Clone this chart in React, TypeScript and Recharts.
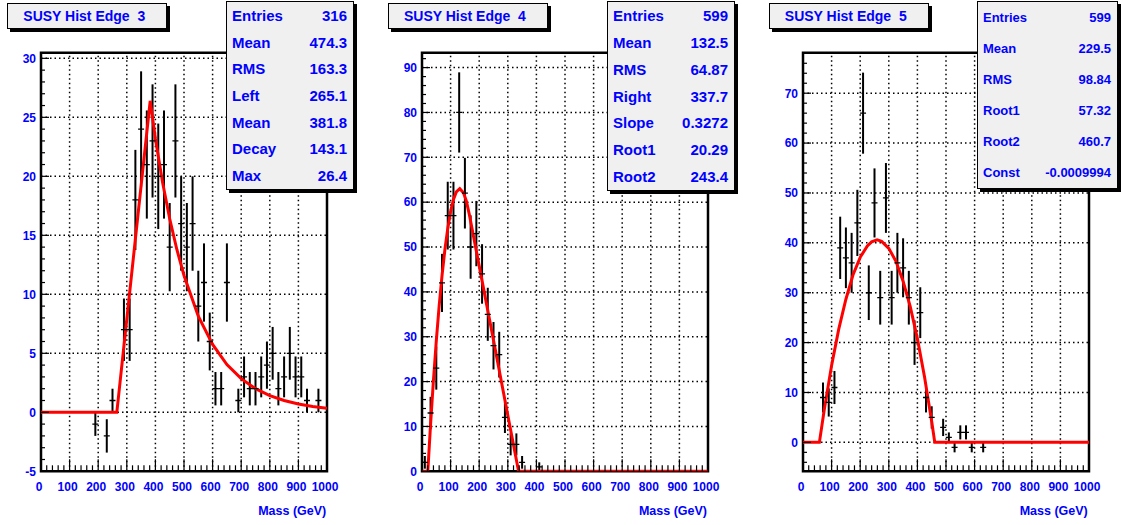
import React from 'react';
import { ComposedChart, XAxis, YAxis, Scatter, Line, ErrorBar, ReferenceLine, ReferenceArea } from 'recharts';

// ---------- Panel 1 : SUSY Hist Edge 3 ----------
const p1Mass = [190, 230, 250, 290, 310, 330, 350, 370, 390, 410, 430, 450, 470, 490, 510, 530, 550, 570, 590, 610, 630, 650, 690, 710, 730, 750, 770, 790, 810, 830, 850, 870, 890, 910, 930, 970];
const p1Counts = [-1, -2, 1, 7, 7, 18, 24, 21, 23, 20, 21, 14, 23, 16, 14, 16, 9, 11, 6, 2, 2, 11, 1, 3, 2, 2, 3, 4, 5, 2, 3, 5, 3, 3, 1, 1];
const p1FitMass = [0, 265.1, 381.8, 400, 425, 450, 475, 500, 550, 600, 650, 700, 750, 800, 850, 900, 950, 1000];
const p1FitValues = [0, 0, 26.4, 23.2, 19.5, 16.4, 13.8, 11.6, 8.15, 5.75, 4.05, 2.85, 2.0, 1.42, 1.0, 0.71, 0.5, 0.35];
const p1StatLabels = ['Entries', 'Mean', 'RMS', 'Left', 'Mean', 'Decay', 'Max'];
const p1StatValues = ['316', '474.3', '163.3', '265.1', '381.8', '143.1', '26.4'];
const p1YMajor = [-5, 0, 5, 10, 15, 20, 25, 30];

// ---------- Panel 2 : SUSY Hist Edge 4 ----------
const p2Mass = [10, 30, 50, 70, 90, 110, 130, 150, 170, 190, 210, 230, 250, 270, 290, 310, 330, 350, 410];
const p2Counts = [2, 13, 23, 42, 57, 57, 80, 62, 50, 53, 44, 35, 28, 26, 12, 6, 6, 2, 1];
const p2FitMass = [0, 20.3, 30, 40, 50, 60, 70, 80, 90, 100, 110, 120, 132, 145, 155, 165, 200, 250, 300, 337.7, 1000];
const p2FitValues = [0, 0, 10.5, 20.3, 29.1, 36.9, 43.6, 49.4, 54.1, 57.9, 60.6, 62.3, 63.0, 62.1, 60.3, 57.4, 45.8, 29.2, 12.5, 0, 0];
const p2StatLabels = ['Entries', 'Mean', 'RMS', 'Right', 'Slope', 'Root1', 'Root2'];
const p2StatValues = ['599', '132.5', '64.87', '337.7', '0.3272', '20.29', '243.4'];
const p2YMajor = [0, 10, 20, 30, 40, 50, 60, 70, 80, 90];

// ---------- Panel 3 : SUSY Hist Edge 5 ----------
const p3Mass = [70, 90, 110, 130, 150, 170, 190, 210, 230, 250, 270, 290, 310, 330, 350, 370, 390, 410, 430, 450, 490, 510, 530, 550, 570, 590, 630];
const p3Counts = [9, 8, 11, 39, 37, 36, 44, 66, 30, 48, 29, 49, 29, 36, 35, 29, 20, 26, 9, 5, 3, 1, -1, 2, 2, -1, -1];
const p3FitMass = [0, 57.3, 75, 100, 125, 150, 175, 200, 225, 240, 259, 275, 300, 325, 350, 375, 400, 425, 450, 460.7, 1000];
const p3FitValues = [0, 0, 6.8, 15.4, 22.7, 28.7, 33.6, 37.1, 39.4, 40.2, 40.6, 40.3, 38.9, 36.3, 32.3, 27.2, 20.8, 13.1, 4.2, 0, 0];
const p3StatLabels = ['Entries', 'Mean', 'RMS', 'Root1', 'Root2', 'Const'];
const p3StatValues = ['599', '229.5', '98.84', '57.32', '460.7', '-0.0009994'];
const p3YMajor = [0, 10, 20, 30, 40, 50, 60, 70];

// shared x axis
const xMajorTicks = [0, 100, 200, 300, 400, 500, 600, 700, 800, 900, 1000];
const xMinorStep = 20;

const FONT = '"Liberation Sans", Arial, Helvetica, sans-serif';
const BLUE = '#0000ff';
const FRAME_TOP = 52.8;
const FRAME_BOTTOM = 471.3;
const PLOT_W = 286;
const YAXIS_W = 41;
const H = 525;
const XAXIS_H = 40;

type PanelCfg = {
  title: string;
  frameLeft: number;
  mass: number[];
  counts: number[];
  fitMass: number[];
  fitValues: number[];
  statLabels: string[];
  statValues: string[];
  yMajor: number[];
  yDomain: [number, number];
  yMinorStep: number;
  statLeft: number;
  statWidth: number;
  statHeight: number;
  statFont: number;
};

const panels: PanelCfg[] = [
  {
    title: 'SUSY Hist Edge  3', frameLeft: 41.3, mass: p1Mass, counts: p1Counts,
    fitMass: p1FitMass, fitValues: p1FitValues, statLabels: p1StatLabels, statValues: p1StatValues,
    yMajor: p1YMajor, yDomain: [-5, 30.47], yMinorStep: 1,
    statLeft: 226, statWidth: 128, statHeight: 189, statFont: 15,
  },
  {
    title: 'SUSY Hist Edge  4', frameLeft: 422, mass: p2Mass, counts: p2Counts,
    fitMass: p2FitMass, fitValues: p2FitValues, statLabels: p2StatLabels, statValues: p2StatValues,
    yMajor: p2YMajor, yDomain: [0, 93.3], yMinorStep: 2,
    statLeft: 607, statWidth: 128, statHeight: 190, statFont: 15,
  },
  {
    title: 'SUSY Hist Edge  5', frameLeft: 802.8, mass: p3Mass, counts: p3Counts,
    fitMass: p3FitMass, fitValues: p3FitValues, statLabels: p3StatLabels, statValues: p3StatValues,
    yMajor: p3YMajor, yDomain: [-5.8, 78.1], yMinorStep: 2,
    statLeft: 977, statWidth: 141, statHeight: 188, statFont: 13,
  },
];

function range(a: number, b: number, step: number): number[] {
  const out: number[] = [];
  const start = Math.ceil(a / step) * step;
  for (let v = start; v <= b + 1e-9; v += step) out.push(Math.round(v * 1000) / 1000);
  return out;
}

const Marker = (p: any) => (
  <line x1={p.cx - 3} x2={p.cx + 3} y1={p.cy} y2={p.cy} stroke="#000" strokeWidth={1.3} />
);

function Panel({ cfg }: { cfg: PanelCfg }) {
  const pts = cfg.mass.map((m, i) => ({ x: m, y: cfg.counts[i], err: Math.sqrt(Math.abs(cfg.counts[i])) }));
  const fit = cfg.fitMass.map((m, i) => ({ x: m, y: cfg.fitValues[i] }));
  const xTicks = range(0, 1000, xMinorStep);
  const yTicks = range(cfg.yDomain[0], cfg.yDomain[1], cfg.yMinorStep);
  const gridX = xMajorTicks.filter((v) => v > 0 && v < 1000);
  const gridY = cfg.yMajor.filter((v) => v > cfg.yDomain[0] && v < cfg.yDomain[1]);

  const XTick = (p: any) => {
    const v = p.payload.value;
    const major = xMajorTicks.includes(v);
    return (
      <g>
        <line x1={p.x} x2={p.x} y1={p.y} y2={p.y - (major ? 12 : 6)} stroke="#000" strokeWidth={1.2} />
        {major && (
          <text x={p.x - 2} y={p.y + 20} textAnchor="middle" fill={BLUE} fontSize={12} fontWeight="bold" fontFamily={FONT}>
            {v}
          </text>
        )}
      </g>
    );
  };
  const YTick = (p: any) => {
    const v = p.payload.value;
    const major = cfg.yMajor.includes(v);
    return (
      <g>
        <line x1={p.x} x2={p.x + (major ? 8 : 4)} y1={p.y} y2={p.y} stroke="#000" strokeWidth={1.2} />
        {major && (
          <text x={p.x - 5} y={p.y + 4.3} textAnchor="end" fill={BLUE} fontSize={12} fontWeight="bold" fontFamily={FONT}>
            {v}
          </text>
        )}
      </g>
    );
  };

  const frameRight = cfg.frameLeft + PLOT_W;

  return (
    <>
      <div style={{ position: 'absolute', left: cfg.frameLeft - YAXIS_W, top: 0 }}>
        <ComposedChart
          width={YAXIS_W + PLOT_W + 12}
          height={H}
          margin={{ top: FRAME_TOP, right: 12, bottom: H - FRAME_BOTTOM - XAXIS_H, left: 0 }}
        >
          <XAxis type="number" dataKey="x" domain={[0, 1000]} ticks={xTicks} interval={0} tick={XTick}
            tickLine={false} axisLine={false} tickSize={0} tickMargin={0} height={XAXIS_H} allowDataOverflow />
          <YAxis type="number" domain={cfg.yDomain} ticks={yTicks} interval={0} tick={YTick}
            tickLine={false} axisLine={false} tickSize={0} tickMargin={0} width={YAXIS_W} allowDataOverflow />
          {gridX.map((v) => (
            <ReferenceLine key={'gx' + v} x={v} stroke="#000" strokeDasharray="1.5 3" strokeWidth={1.5} />
          ))}
          {gridY.map((v) => (
            <ReferenceLine key={'gy' + v} y={v} stroke="#000" strokeDasharray="1.5 3" strokeWidth={1.5} />
          ))}
          <ReferenceArea x1={0} x2={1000} y1={cfg.yDomain[0]} y2={cfg.yDomain[1]} fill="none" fillOpacity={0}
            stroke="#000" strokeWidth={2.5} />
          <Scatter data={pts} dataKey="y" shape={Marker} isAnimationActive={false}>
            <ErrorBar dataKey="err" direction="y" width={0} stroke="#000" strokeWidth={2} isAnimationActive={false} />
          </Scatter>
          <Line data={fit} dataKey="y" type="linear" dot={false} activeDot={false} stroke="#ff0000" strokeWidth={3}
            isAnimationActive={false} />
        </ComposedChart>
      </div>

      {/* title box */}
      <div
        style={{
          position: 'absolute', left: cfg.frameLeft - 34, top: 3, width: 160, height: 26, boxSizing: 'border-box',
          border: '1px solid #000', boxShadow: '3px 3px 0 #000', background: '#f0f0f0',
          fontFamily: FONT, fontWeight: 'bold', fontSize: 14, color: BLUE, whiteSpace: 'pre',
          paddingLeft: 15, lineHeight: '24px',
        }}
      >
        {cfg.title}
      </div>

      {/* stats box */}
      <div
        style={{
          position: 'absolute', left: cfg.statLeft, top: 1, width: cfg.statWidth, height: cfg.statHeight,
          boxSizing: 'border-box', border: '1.5px solid #000', boxShadow: '3px 3px 0 #000', background: '#f0f0f0',
          display: 'flex', flexDirection: 'column', fontFamily: FONT, fontWeight: 'bold', fontSize: cfg.statFont,
          color: BLUE,
        }}
      >
        {cfg.statLabels.map((l, i) => (
          <div key={i} style={{ flex: 1, display: 'flex', alignItems: 'center', justifyContent: 'space-between', padding: '0 6px 0 5px' }}>
            <span>{l}</span>
            <span>{cfg.statValues[i]}</span>
          </div>
        ))}
      </div>

      {/* x axis title */}
      <div
        style={{
          position: 'absolute', left: frameRight - 121, width: 120, top: 503, textAlign: 'right',
          fontFamily: FONT, fontWeight: 'bold', fontSize: 12.5, color: BLUE, lineHeight: '16px',
        }}
      >
        Mass (GeV)
      </div>
    </>
  );
}

export default function App() {
  return (
    <div style={{ position: 'absolute', left: 0, top: 0, width: 1123, height: 525, background: '#fff', overflow: 'hidden' }}>
      {panels.map((cfg, i) => (
        <Panel key={i} cfg={cfg} />
      ))}
    </div>
  );
}
